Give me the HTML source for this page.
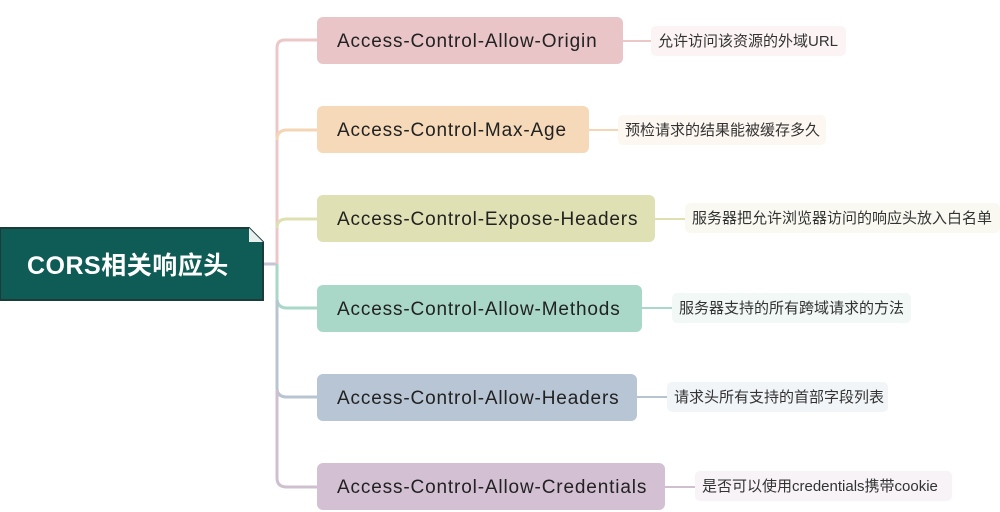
<!DOCTYPE html>
<html><head><meta charset="utf-8"><style>
body{margin:0;width:1000px;height:507px;background:#fff;position:relative;overflow:hidden;font-family:"Liberation Sans","Noto Sans CJK SC",sans-serif}
.n{position:absolute;left:317px;height:47px;border-radius:6px;font-size:19px;letter-spacing:0.85px;color:#222;line-height:49px;box-sizing:border-box;padding-left:20px;white-space:nowrap}
.l{position:absolute;height:30px;border-radius:5px;font-size:15px;color:#333;line-height:31px;padding-left:7px;box-sizing:border-box;white-space:nowrap}
</style></head><body>
<svg width="1000" height="507" style="position:absolute;left:0;top:0">
<g fill="none" stroke-width="3">
<path d="M263 264 H277" stroke="#c9c3d6"/>
<path d="M277 264 V48 Q277 40 285 40 H317" stroke="#ecc7c8"/>
<path d="M277 140 Q277 130 287 130 H317" stroke="#f4d6b5"/>
<path d="M277 228 Q277 219 287 219 H317" stroke="#dfe0b2"/>
<path d="M277 264 V298 Q277 308 287 308 H317" stroke="#a9d7c8"/>
<path d="M277 300 V388 Q277 397 287 397 H317" stroke="#b7c4d2"/>
<path d="M277 390 V478 Q277 487 287 487 H317" stroke="#cfc0cf"/>
</g>
<g stroke-width="2">
<path d="M623 41 H651" stroke="#ecc7c8"/>
<path d="M589 130 H618" stroke="#f4d6b5"/>
<path d="M655 219 H685" stroke="#dfe0b2"/>
<path d="M642 308 H672" stroke="#a9d7c8"/>
<path d="M637 397 H667" stroke="#b7c4d2"/>
<path d="M665 487 H695" stroke="#cfc0cf"/>
</g>
<path d="M0 228 H249 L263 242 V300 H0 Z" fill="#0f5b56" stroke="#1b3c3a" stroke-width="2"/>
<path d="M249 228 V242 H263 Z" fill="#e8f0ef"/>
<text x="27" y="274" font-size="25" font-weight="bold" fill="#fff" letter-spacing="0.5" font-family="Liberation Sans,Noto Sans CJK SC,sans-serif">CORS相关响应头</text>
</svg>
<div class="n" style="top:17px;width:306px;background:#e9c5c7">Access-Control-Allow-Origin</div>
<div class="n" style="top:106px;width:272px;background:#f5d9b9">Access-Control-Max-Age</div>
<div class="n" style="top:195px;width:338px;background:#dfe0b3">Access-Control-Expose-Headers</div>
<div class="n" style="top:285px;width:325px;background:#a9d8c8">Access-Control-Allow-Methods</div>
<div class="n" style="top:374px;width:320px;background:#b7c5d4">Access-Control-Allow-Headers</div>
<div class="n" style="top:463px;width:348px;height:47px;background:#d3c1d3">Access-Control-Allow-Credentials</div>
<div class="l" style="left:651px;top:26px;width:195px;background:#fcf4f4">允许访问该资源的外域URL</div>
<div class="l" style="left:618px;top:115px;width:208px;background:#fdf7f1">预检请求的结果能被缓存多久</div>
<div class="l" style="left:685px;top:203px;width:315px;background:#f9f9f1">服务器把允许浏览器访问的响应头放入白名单</div>
<div class="l" style="left:672px;top:293px;width:239px;background:#f1f8f6">服务器支持的所有跨域请求的方法</div>
<div class="l" style="left:667px;top:382px;width:221px;background:#f2f5f8">请求头所有支持的首部字段列表</div>
<div class="l" style="left:695px;top:471px;width:257px;background:#f7f3f7">是否可以使用credentials携带cookie</div>
</body></html>
